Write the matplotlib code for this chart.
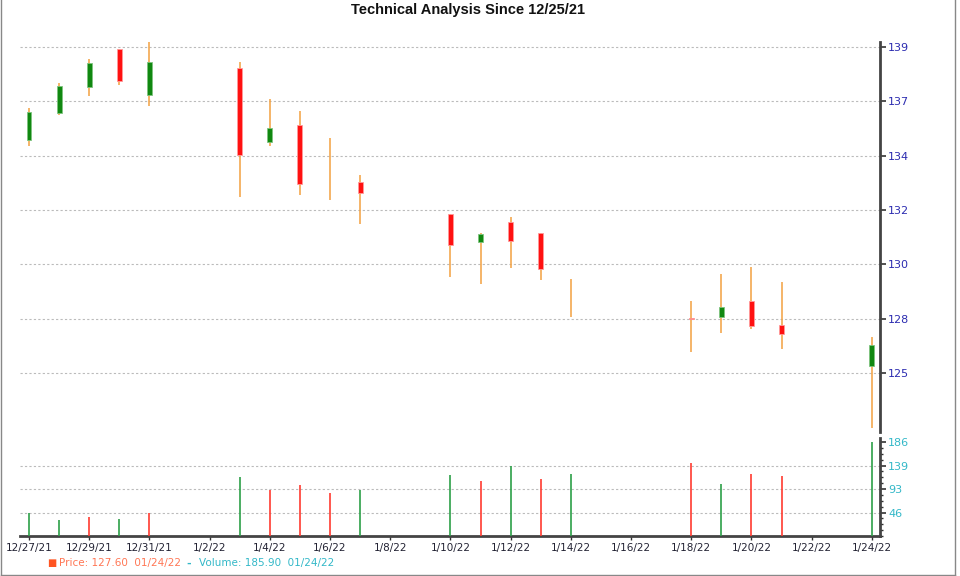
import numpy as np
import pandas as pd
import matplotlib
matplotlib.use('Agg')
import matplotlib.pyplot as plt
import matplotlib.dates as mdates
from matplotlib.ticker import FixedLocator, FuncFormatter, MultipleLocator, NullLocator
from matplotlib.lines import Line2D

# daily candles
dates = ['2021-12-27', '2021-12-28', '2021-12-29', '2021-12-30', '2021-12-31',
         '2022-01-03', '2022-01-04', '2022-01-05', '2022-01-06', '2022-01-07',
         '2022-01-10', '2022-01-11', '2022-01-12', '2022-01-13', '2022-01-14',
         '2022-01-18', '2022-01-19', '2022-01-20', '2022-01-21', '2022-01-24']
opens = [134.95, 136.05, 137.16, 138.70, 136.80, 137.94, 134.88, 135.56, 133.38, 133.21,
         131.87, 130.74, 131.55, 131.11, 128.74, 127.60, 127.61, 128.28, 127.29, 125.59]
highs = [136.27, 137.32, 138.32, 138.72, 139.00, 138.19, 136.63, 136.16, 135.04, 133.50,
         131.90, 131.10, 131.75, 131.12, 129.18, 128.30, 129.39, 129.68, 129.06, 126.78]
lows = [134.71, 136.00, 136.78, 137.23, 136.36, 132.58, 134.71, 132.68, 132.45, 131.46,
        129.26, 128.99, 129.66, 129.15, 127.63, 126.17, 126.97, 127.14, 126.30, 123.04]
closes = [136.12, 137.19, 138.15, 137.39, 138.18, 134.33, 135.43, 133.11, 133.38, 132.74,
          130.60, 131.04, 130.78, 129.60, 128.74, 127.54, 128.05, 127.26, 126.90, 126.46]
volumes = [46.1, 31.7, 38.2, 33.0, 46.1, 116.2, 91.0, 101.0, 84.5, 91.0,
           120.0, 108.0, 138.0, 113.6, 123.5, 144.4, 102.4, 123.5, 118.0, 185.9]
vol_up = [1, 1, 0, 1, 0, 1, 0, 0, 0, 1, 1, 0, 1, 0, 1, 0, 1, 0, 0, 1]

price_ticks = [138.8, 136.55, 134.3, 132.05, 129.8, 127.55, 125.3]
vol_ticks = [46.475, 92.95, 139.425, 185.9]

x = mdates.date2num(pd.to_datetime(dates))
o = np.array(opens); c = np.array(closes)
h = np.array(highs); l = np.array(lows)

fig = plt.figure(figsize=(9.6, 5.76), dpi=100)
ax = fig.add_axes([0.0208, 0.25, 0.8958, 0.6771])
axv = fig.add_axes([0.0208, 0.0694, 0.8958, 0.1702], sharex=ax)

# wicks then bodies
ax.vlines(x, l, h, color='#f2a040', lw=1.1, zorder=2)
up = c >= o
body_col = np.where(up, '#118811', '#ff1111')
edge_col = np.where(up, '#7fc47f', '#ff9a9a')
body_lw = np.where(np.abs(c - o) > 0.01, 0.6, 0.0)
ax.bar(x, np.abs(c - o), bottom=np.minimum(o, c), width=0.16,
       color=body_col, edgecolor=edge_col, lw=body_lw, zorder=3)

ax.set_ylim(122.86, 139.01)
ax.set_xlim(x[0] - 0.3, x[-1] + 0.27)
ax.yaxis.set_major_locator(FixedLocator(price_ticks))
ax.yaxis.set_major_formatter(FuncFormatter(lambda v, p: f"{v:.0f}"))
ax.yaxis.tick_right()
ax.tick_params(axis='y', direction='out', length=4, width=1.2, color='#333333',
               labelcolor='#2b2bb0', labelsize=8, pad=2)
ax.tick_params(axis='x', bottom=False, labelbottom=False)
for s in ['top', 'left', 'bottom']:
    ax.spines[s].set_visible(False)
ax.spines['right'].set_linewidth(2)
ax.spines['right'].set_color('#444444')
ax.grid(axis='y', color='#bbbbbb', lw=0.8, ls=(0, (2, 2)))
ax.set_axisbelow(True)

# volume
vcol = ['#2ca048' if u else '#ff3b30' for u in vol_up]
axv.vlines(x, 0, volumes, colors=vcol, lw=1.2, zorder=3)
axv.set_ylim(0, 194)
axv.yaxis.set_major_locator(FixedLocator(vol_ticks))
axv.yaxis.set_minor_locator(MultipleLocator(vol_ticks[0] / 4))
axv.yaxis.set_major_formatter(FuncFormatter(lambda v, p: f"{v:.0f}"))
axv.yaxis.tick_right()
axv.tick_params(axis='y', which='major', direction='out', length=4, width=1.2,
                color='#333333', labelcolor='#33b8c8', labelsize=8, pad=2)
axv.tick_params(axis='y', which='minor', direction='out', length=2, width=1,
                color='#333333')
axv.hlines(vol_ticks[:3], x[0] - 0.3, x[-1] + 0.27, color='#bbbbbb', lw=0.8,
           ls=(0, (2, 2)), zorder=1)
for s in ['top', 'left']:
    axv.spines[s].set_visible(False)
for s in ['right', 'bottom']:
    axv.spines[s].set_linewidth(2)
    axv.spines[s].set_color('#444444')

xt = mdates.date2num(pd.date_range('2021-12-27', '2022-01-24', freq='2D'))
axv.xaxis.set_major_locator(FixedLocator(xt))
axv.xaxis.set_minor_locator(NullLocator())
axv.xaxis.set_major_formatter(FuncFormatter(
    lambda v, p: (lambda d: f"{d.month}/{d.day}/{d.strftime('%y')}")(mdates.num2date(v))))
axv.tick_params(axis='x', direction='out', length=3, width=1, color='#333333',
                labelcolor='#222233', labelsize=7.5, pad=2)

fig.text(0.4875, 0.983, 'Technical Analysis Since 12/25/21', ha='center', va='center',
         fontsize=10.5, fontweight='bold', family='Liberation Sans', color='#111111')

fig.text(0.049, 0.022, '\u25a0', color='#ff5522', fontsize=7, va='center')
fig.text(0.061, 0.022, 'Price: 127.60  01/24/22', color='#ff7755', fontsize=7.5, va='center')
fig.text(0.194, 0.022, '-', color='#33b8c8', fontsize=8, va='center', fontweight='bold')
fig.text(0.207, 0.022, 'Volume: 185.90  01/24/22', color='#33b8c8', fontsize=7.5, va='center')

# figure frame (left, bottom, right)
for xs, ys in [([0.001, 0.001], [0.002, 1]), ([0.001, 0.995], [0.002, 0.002]),
               ([0.995, 0.995], [0.002, 1])]:
    fig.add_artist(Line2D(xs, ys, transform=fig.transFigure, color='#888888', lw=1))

fig.savefig('out.png', dpi=100)
